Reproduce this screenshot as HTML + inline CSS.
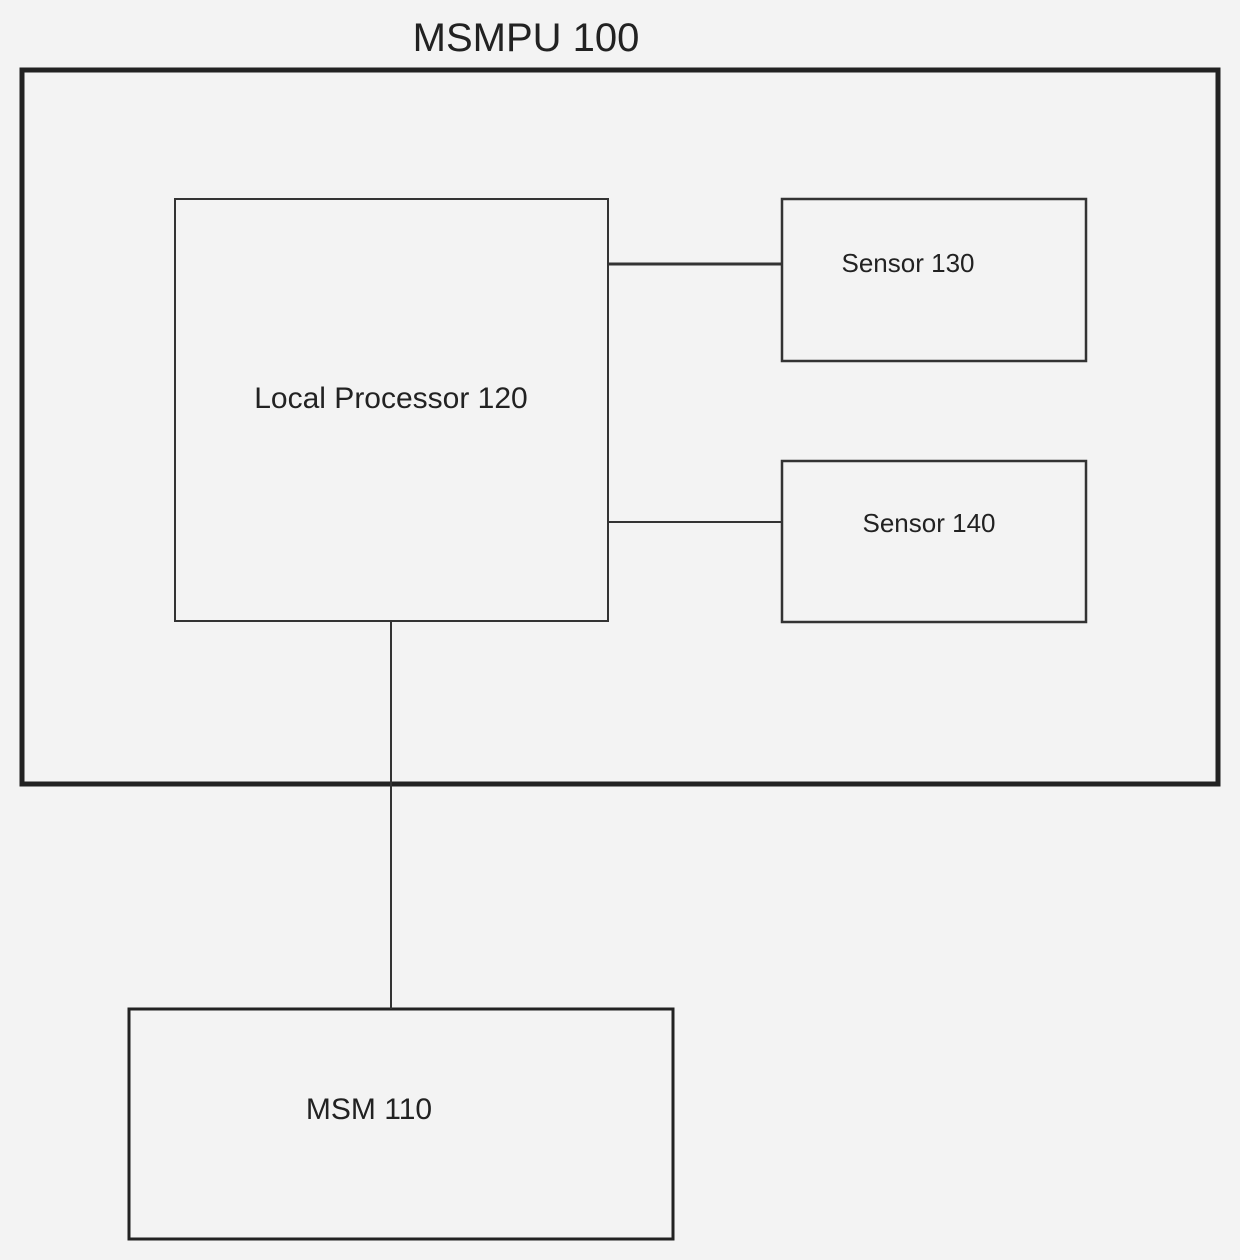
<!DOCTYPE html>
<html><head><meta charset="utf-8"><style>
html,body{margin:0;padding:0;background:#f3f3f3;}
svg{display:block}
text{font-family:"Liberation Sans",sans-serif;fill:#222}
</style></head><body>
<svg width="1240" height="1260" viewBox="0 0 1240 1260">
<rect width="1240" height="1260" fill="#f3f3f3"/>
<text x="526" y="51" font-size="40" text-anchor="middle">MSMPU  100</text>
<rect x="22" y="70" width="1196" height="714" fill="none" stroke="#222" stroke-width="5"/>
<rect x="175" y="199" width="433" height="422" fill="none" stroke="#333" stroke-width="2"/>
<rect x="782" y="199" width="304" height="162" fill="none" stroke="#333" stroke-width="2.5"/>
<rect x="782" y="461" width="304" height="161" fill="none" stroke="#333" stroke-width="2.5"/>
<rect x="129" y="1009" width="544" height="230" fill="none" stroke="#222" stroke-width="3"/>
<line x1="608" y1="264" x2="782" y2="264" stroke="#333" stroke-width="3"/>
<line x1="608" y1="522" x2="782" y2="522" stroke="#333" stroke-width="2"/>
<line x1="391" y1="621" x2="391" y2="1009" stroke="#333" stroke-width="2"/>
<text x="391" y="408" font-size="30" text-anchor="middle">Local Processor  120</text>
<text x="908" y="272" font-size="26" text-anchor="middle">Sensor  130</text>
<text x="929" y="532" font-size="26" text-anchor="middle">Sensor  140</text>
<text x="369" y="1119" font-size="30" text-anchor="middle">MSM  110</text>
</svg>
</body></html>
